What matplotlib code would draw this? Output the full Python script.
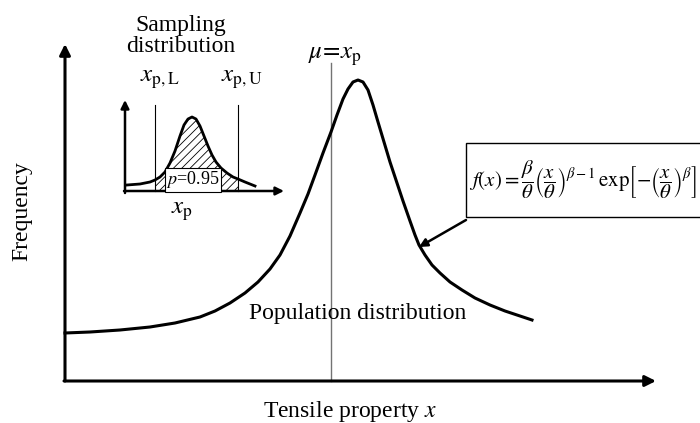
import numpy as np
import matplotlib
matplotlib.use("Agg")
import matplotlib.pyplot as plt
from matplotlib.patches import Rectangle

plt.rcParams["font.family"] = ["Liberation Serif", "DejaVu Serif"]
plt.rcParams["mathtext.fontset"] = "stix"
plt.rcParams["hatch.linewidth"] = 0.6

# -----------------------------------------------------
# data (pixel space, y grows down)
# -----------------------------------------------------
# population distribution curve
pop_x = [65, 90, 120, 150, 175, 200, 215, 230, 245, 258, 270, 280, 290,
         300, 308, 315, 323, 331, 337, 343, 348, 353, 358, 363, 368, 373,
         378, 384, 390, 396, 403, 410, 415, 419, 425, 432, 440, 450, 462,
         475, 490, 505, 520, 532]
pop_y = [333, 332, 330, 327, 323, 317, 311, 303, 293, 282, 269, 255, 236,
         213, 194, 175, 153, 132, 115, 99, 89, 82, 80, 82, 90, 105,
         122, 142, 162, 180, 201, 221, 235, 245, 255, 265, 273, 282, 290,
         298, 305, 311, 316, 320]

# sampling distribution curve (inset)
samp_x = [127, 140, 150, 155, 160, 165, 170, 175, 180, 184, 188, 192, 196,
          200, 204, 208, 212, 216, 221, 227, 233, 238, 245, 255]
samp_y = [185, 184, 182, 180, 177, 172, 163, 151, 136, 125, 119, 117, 119,
          126, 136, 146, 155, 162, 168, 173, 177, 179, 182, 186]

# confidence bounds and mean position
x_pL = 155
x_pU = 238
x_mu = 331

formula = (r"$f(x)=\dfrac{\beta}{\theta}\left(\dfrac{x}{\theta}\right)^{\beta-1}"
           r"\,\mathrm{exp}\left[-\left(\dfrac{x}{\theta}\right)^{\beta}\right]$")

fig = plt.figure(figsize=(7, 4.23), dpi=100)
ax = fig.add_axes([0, 0, 1, 1])
ax.set_xlim(0, 700)
ax.set_ylim(423, 0)
ax.axis("off")

arrow = dict(arrowstyle="-|>", lw=2.2, color="k", mutation_scale=16,
             shrinkA=0, shrinkB=0)
small_arrow = dict(arrowstyle="-|>", lw=1.8, color="k", mutation_scale=12,
                   shrinkA=0, shrinkB=0)

# main axes
ax.annotate("", xy=(65, 44), xytext=(65, 381), arrowprops=arrow)
ax.annotate("", xy=(656, 381), xytext=(64, 381), arrowprops=arrow)

# mean line and population curve
ax.plot([x_mu, x_mu], [63, 381], color="0.45", lw=1.0)
ax.plot(pop_x, pop_y, color="k", lw=2.2, solid_joinstyle="round")

ax.text(350, 411, "Tensile property $x$", ha="center", va="center", fontsize=17)
ax.text(22, 211, "Frequency", ha="center", va="center", fontsize=17,
        rotation=90)
ax.text(358, 313, "Population distribution", ha="center", va="center",
        fontsize=17)
ax.text(335, 57, r"$\mu\!=\!x_{\mathrm{p}}$", ha="center", va="center",
        fontsize=18)

# inset sampling distribution
ax.annotate("", xy=(125, 100), xytext=(125, 193), arrowprops=small_arrow)
ax.annotate("", xy=(284, 191), xytext=(124, 191), arrowprops=small_arrow)
sx = np.array(samp_x)
sy = np.array(samp_y)
inside = (sx >= x_pL) & (sx <= x_pU)
ax.fill_between(sx[inside], sy[inside], 191, facecolor="none",
                edgecolor="k", hatch="////", lw=0)
ax.plot([x_pL, x_pL], [105, 191], color="k", lw=0.8)
ax.plot([x_pU, x_pU], [105, 191], color="k", lw=0.8)
ax.plot(sx, sy, color="k", lw=2.0)
ax.text(193, 180, "$p$=0.95", ha="center", va="center", fontsize=13,
        bbox=dict(boxstyle="square,pad=0.08", fc="white", ec="k", lw=0.8))

ax.text(181, 36, "Sampling\ndistribution", ha="center", va="center",
        fontsize=17, linespacing=1.0)
ax.text(160, 80, r"$x_{\mathrm{p,L}}$", ha="center", va="center", fontsize=18)
ax.text(242, 80, r"$x_{\mathrm{p,U}}$", ha="center", va="center", fontsize=18)
ax.text(182, 212, r"$x_{\mathrm{p}}$", ha="center", va="center", fontsize=18)

# formula box with pointer
ax.add_patch(Rectangle((466, 143), 260, 74, fc="white", ec="k", lw=1.0))
ax.text(469, 180, formula, ha="left", va="center", fontsize=15, clip_on=True)
ax.annotate("", xy=(419, 247), xytext=(466, 220), arrowprops=small_arrow)

fig.savefig("out.png", dpi=100)
